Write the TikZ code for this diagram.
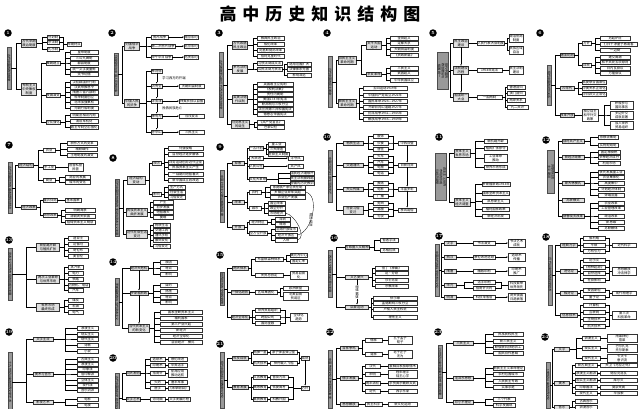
\documentclass[tikz,border=0pt]{standalone}
\usepackage{fontspec}
\newfontfamily\cjk{Noto Sans CJK SC}
\usetikzlibrary{arrows.meta,positioning}

\begin{document}
\begin{tikzpicture}
	[   x=1pt,y=-1pt,line width=0.3pt,
		every node/.style={font=\cjk\fontsize{3.3}{3.8}\selectfont},
		num/.style={circle,fill=black,text=white,inner sep=0pt,minimum size=7.5pt,font=\bfseries\fontsize{4.5}{4.5}\selectfont},
		bar/.style={draw=black!70,fill=black!40,rotate=-90,inner sep=0.4pt,minimum height=4.6pt,minimum width=#1,align=center,font=\cjk\fontsize{3.1}{3.6}\selectfont},
		br/.style={draw=black!80,fill=black!12,inner sep=0.5pt,minimum height=4.6pt,minimum width=#1,align=center},
		lf/.style={draw=black!80,fill=white,inner sep=0.4pt,minimum height=4.4pt,minimum width=#1,align=center,anchor=west},
	]
	\tikzset{arr/.style={draw,-{Latex[length=1.6pt,width=1.4pt]}}}
	\fill[white] (0,0) rectangle (640,408);
	\useasboundingbox (0,0) rectangle (640,408);
	\node[font=\cjk\bfseries\fontsize{17}{17}\selectfont] (title) at (320,14) {高\hspace{6pt}中\hspace{6pt}历\hspace{6pt}史\hspace{6pt}知\hspace{6pt}识\hspace{6pt}结\hspace{6pt}构\hspace{6pt}图};
	
	% 1
	\node[num] (n1) at (8,33) {1};
	\node[bar=42] (b1) at (9,68) {古代中国的政治制度};
	\node[br=15] (s1a) at (29,43) {古代早期\\政治制度};
	\node[br=15] (s1b) at (29,89) {专制主义\\中央集权\\制度};
	\foreach \s in {s1a,s1b} \draw (b1.north) -- ++(5,0) |- (\s.west);
	\node[lf=14] (r1a) at (67,44) {早期特点};
	\foreach \y/\t [count=\i] in {37/分封制,42/宗法制,49/礼乐制}
	{
		\node[lf=12] (l1a\i) at (47,\y) {\t};
		\draw (s1a.east) -- ++(5,0) |- (l1a\i.west);
		\draw (l1a\i.east) -- ++(4,0) |- (r1a.west);
	}
	\foreach \y/\t [count=\i] in {63/秦朝建立,95/发展演变,122/空前强化}
	{
		\node[lf=13] (t1b\i) at (46,\y) {\t};
		\draw (s1b.east) -- ++(4,0) |- (t1b\i.west);
	}
	\foreach \y/\t [count=\i] in {52/皇帝制度,58/三公九卿制,63/郡县制度,69/统一文字度量衡,74/焚书坑儒}
	{
		\node[lf=28] (l1b\i) at (70,\y) {\t};
		\draw (t1b1.east) -- ++(5,0) |- (l1b\i.west);
	}
	\foreach \y/\t [count=\i] in {82/汉初郡国并行制,87/汉武帝推恩令,92/隋唐三省六部制,97/科举制度创立,102/北宋加强集权,108/元朝行省制度}
	{
		\node[lf=28] (l1c\i) at (70,\y) {\t};
		\draw (t1b2.east) -- ++(5,0) |- (l1c\i.west);
	}
	\foreach \y/\t [count=\i] in {115/明废丞相设内阁,121/清设军机处,127/君主专制空前强化}
	{
		\node[lf=28] (l1d\i) at (70,\y) {\t};
		\draw (t1b3.east) -- ++(5,0) |- (l1d\i.west);
	}
	
	% 2
	\node[num] (n2) at (112,33) {2};
	\node[bar=42] (b2) at (116,74) {列强侵华与中国人民的抗争};
	\node[br=15] (s2a) at (132,46) {列强侵华\\战争};
	\node[br=15] (s2b) at (132,103) {中国人民\\的抗争};
	\foreach \s in {s2a,s2b} \draw (b2.north) -- ++(4,0) |- (\s.west);
	\foreach \y/\t/\r [count=\i] in {37/鸦片战争/南京条约,46/第二次鸦片战争/北京条约,57/甲午中日战争/马关条约}
	{
		\node[lf=17] (l2a\i) at (151,\y) {\t};
		\node[lf=13] (r2a\i) at (184,\y) {\r};
		\draw (s2a.east) -- ++(6,0) |- (l2a\i.west);
		\draw[arr] (l2a\i) -- (r2a\i);
	}
	\foreach \y/\t [count=\i] in {71/林则徐,86/洪秀全,101/洋务派,116/康有为,132/孙中山}
	{
		\node[lf=11] (l2b\i) at (151,\y) {\t};
		\draw (s2b.east) -- ++(6,0) |- (l2b\i.west);
	}
	\foreach \y/\t [count=\i from 2] in {86/天朝田亩制度,101/师夷长技以自强,116/戊戌变法,132/三民主义}
	{
		\node[lf=25] (r2b\i) at (179,\y) {\t};
		\draw[arr] (l2b\i) -- (r2b\i);
	}
	\foreach \i [evaluate=\i as \j using int(\i+1)] in {1,...,4} \draw[arr] (l2b\i) -- (l2b\j);
	\node[anchor=west] (c2a) at (159,78) {学习西方的开端};
	\node[anchor=west] (c2b) at (159,108) {挽救民族危亡};
	
	% 3
	\node[num] (n3) at (219,33) {3};
	\node[bar=65] (b3) at (221,85) {古代希腊罗马和近代西方的政治制度};
	\foreach \y/\t/\n in {45/古代希腊\\民主政治/a,69/罗马法的\\发展/b,99/英美法德\\代议制/c,124/马克思主义\\的诞生/d}
	{
		\node[br=15] (s3\n) at (240,\y) {\t};
		\draw (b3.north) -- ++(4,0) |- (s3\n.west);
	}
	\foreach \y/\t [count=\i] in {38/雅典民主政治,44/梭伦改革,50/克里斯提尼改革,56/伯利克里时代}
	{
		\node[lf=27] (l3a\i) at (257,\y) {\t};
		\draw (s3a.east) -- ++(5,0) |- (l3a\i.west);
	}
	\foreach \y/\t [count=\i] in {63/习惯法到成文法,69/公民法到万民法}
	{
		\node[lf=25] (l3b\i) at (257,\y) {\t};
		\draw (s3b.east) -- ++(5,0) |- (l3b\i.west);
	}
	\foreach \y/\t [count=\i] in {64/适用范围扩大,69/法律体系完善,75/影响深远}
	{
		\node[lf=24] (r3b\i) at (287,\y) {\t};
		\draw (l3b2.east) -- ++(2,0) |- (r3b\i.west);
	}
	\foreach \y/\t [count=\i] in {84/英国君主立宪制,89/《权利法案》,94/责任内阁制,99/美国1787年宪法,104/联邦制与三权分立,109/法兰西第三共和国宪法,114/德意志帝国宪法}
	{
		\node[lf=36] (l3c\i) at (257,\y) {\t};
		\draw (s3c.east) -- ++(5,0) |- (l3c\i.west);
	}
	\foreach \y/\t [count=\i] in {122/《共产党宣言》,127/巴黎公社}
	{
		\node[lf=27] (l3d\i) at (257,\y) {\t};
		\draw (s3d.east) -- ++(5,0) |- (l3d\i.west);
	}
	
	% 4
	\node[num] (n4) at (327,33) {4};
	\node[bar=51] (b4) at (330,82) {近代中国的民主革命};
	\node[br=17] (s4a) at (347,60) {旧民主主义\\革命时期};
	\node[br=17] (s4b) at (347,103) {新民主主义\\革命时期};
	\foreach \s in {s4a,s4b} \draw (b4.north) -- ++(4,0) |- (\s.west);
	\node[br=15] (t4a) at (374,45) {太平天国\\运动};
	\node[br=15] (t4b) at (374,74) {辛亥革命};
	\foreach \s in {t4a,t4b} \draw (s4a.east) -- ++(5,0) |- (\s.west);
	\foreach \y/\t [count=\i] in {38/金田起义,43/定都天京,49/天朝田亩制度,55/《资政新篇》}
	{
		\node[lf=28] (l4a\i) at (390,\y) {\t};
		\draw (t4a.east) -- ++(4,0) |- (l4a\i.west);
	}
	\foreach \y/\t [count=\i] in {68/三民主义,73/武昌起义,80/中华民国成立}
	{
		\node[lf=28] (l4b\i) at (390,\y) {\t};
		\draw (t4b.east) -- ++(4,0) |- (l4b\i.west);
	}
	\foreach \y/\t [count=\i] in {88/五四运动1919年,95/中国共产党成立1921年,101/国民革命1924—1927年,107/开辟井冈山道路1927年,113/抗日战争1931—1945年,119/解放战争1946—1949年}
	{
		\node[lf=44] (l4c\i) at (363,\y) {\t};
		\draw (s4b.east) -- ++(3,0) |- (l4c\i.west);
	}
	
	% 5
	\node[num] (n5) at (433,33) {5};
	\node[bar=37] (b5) at (443,71) {现代中国的\\政治建设与\\祖国统一};
	\foreach \y/\t/\m/\n in {43/民主政治\\建设/人民代表大会制度/a,70/法制建设\\历程/1954年宪法/b,97/祖国统一\\大业/“一国两制”/c}
	{
		\node[br=15] (s5\n) at (461,\y) {\t};
		\node[lf=25] (m5\n) at (477,\y) {\m};
		\draw (b5.north) -- ++(2,0) |- (s5\n.west);
		\draw (s5\n) -- (m5\n);
	}
	\draw[arr] (s5a) -- (s5b);
	\draw[arr] (s5b) -- (s5c);
	\foreach \y/\t [count=\i] in {38/政治协商\\制度,50/民族区域\\自治}
	{
		\node[lf=14] (r5a\i) at (509,\y) {\t};
		\draw (m5a.east) -- ++(3,0) |- (r5a\i.west);
	}
	\node[lf=14] (r5b) at (509,70) {民主法制\\建设};
	\draw (m5b) -- (r5b);
	\foreach \y/\t [count=\i] in {87/香港回归,93/澳门回归,100/两岸关系,107/“九二共识”}
	{
		\node[lf=18] (r5c\i) at (507,\y) {\t};
		\draw (m5c.east) -- ++(2.5,0) |- (r5c\i.west);
	}
	
	% 6
	\node[num] (n6) at (540,33) {6};
	\node[bar=40] (b6) at (549,85) {现代中国的对外关系};
	\foreach \y/\t/\n in {55/建国初期/a,88/70年代/b,115/改革开放/c}
	{
		\node[br=14] (s6\n) at (567,\y) {\t};
		\draw (b6.north) -- ++(4,0) |- (s6\n.west);
	}
	\node[lf=9] (t6a1) at (582,43) {方针};
	\node[lf=9] (t6a2) at (582,65) {成就};
	\foreach \s in {t6a1,t6a2} \draw (s6a.east) -- ++(4,0) |- (\s.west);
	\foreach \y/\t [count=\i] in {38/“另起炉灶”,44/“打扫干净屋子再请客”,50/“一边倒”}
	{
		\node[lf=30] (l6a\i) at (600,\y) {\t};
		\draw (t6a1.east) -- ++(4,0) |- (l6a\i.west);
	}
	\foreach \y/\t [count=\i] in {57/建交高潮,62/和平共处五项原则,68/日内瓦会议,73/万隆会议}
	{
		\node[lf=30] (l6b\i) at (600,\y) {\t};
		\draw (t6a2.east) -- ++(4,0) |- (l6b\i.west);
	}
	\foreach \y/\t [count=\i] in {82/恢复联合国席位,88/中美关系正常化,94/中日邦交正常化}
	{
		\node[lf=23] (l6c\i) at (582,\y) {\t};
		\draw (s6b.east) -- ++(4,0) |- (l6c\i.west);
	}
	\node[lf=16] (t6c) at (582,115) {独立自主\\和平外交\\政策};
	\draw (s6c) -- (t6c);
	\foreach \y/\t [count=\i] in {105/积极参与\\国际事务,115/多边外交\\成就显著,125/加入世界\\贸易组织}
	{
		\node[lf=23] (l6d\i) at (610,\y) {\t};
		\draw (t6c.east) -- ++(6,0) |- (l6d\i.west);
	}
	
	% 7
	\node[num] (n7) at (9,145) {7};
	\node[bar=51] (b7) at (10,188) {古代中国经济的基本结构与特点};
	\node[br=15] (s7a) at (26,165) {经济结构};
	\node[br=15] (s7b) at (29,207) {经济政策};
	\foreach \s in {s7a,s7b} \draw (b7.north) -- ++(3,0) |- (\s.west);
	\foreach \y/\t [count=\i] in {150/农业,167/手工业,180/商业}
	{
		\node[lf=12] (t7a\i) at (43,\y) {\t};
		\draw (s7a.east) -- ++(4.5,0) |- (t7a\i.west);
	}
	\foreach \y/\t [count=\i] in {143/耕作方式的变革,149/精耕细作,155/土地制度的演变}
	{
		\node[lf=30] (l7a\i) at (67,\y) {\t};
		\draw (t7a1.east) -- ++(5,0) |- (l7a\i.west);
	}
	\node[lf=15] (l7b) at (68,167) {官营私营\\民营};
	\draw (t7a2) -- (l7b);
	\foreach \y/\t [count=\i] in {177/商业的发展,182/城市的变化}
	{
		\node[lf=25] (l7c\i) at (65,\y) {\t};
		\draw (t7a3.east) -- ++(4,0) |- (l7c\i.west);
	}
	\node[lf=14] (t7b1) at (43,200) {重农抑商};
	\node[lf=14] (t7b2) at (43,215) {海禁政策};
	\foreach \s in {t7b1,t7b2} \draw (s7b.east) -- ++(3,0) |- (\s.west);
	\node[lf=16] (l7d) at (65,200) {基本国策};
	\draw (t7b1) -- (l7d);
	\foreach \y/\t [count=\i] in {210/明朝海禁,216/清朝闭关锁国,222/阻碍资本主义萌芽}
	{
		\node[lf=30] (l7e\i) at (65,\y) {\t};
		\draw (t7b2.east) -- ++(3.5,0) |- (l7e\i.west);
	}
	
	% 8
	\node[num] (n8) at (113,158) {8};
	\node[bar=57] (b8) at (117,208) {近代中国经济结构的变动与资本主义发展};
	\node[br=18] (s8a) at (136,180) {经济结构\\变动};
	\node[br=20] (s8b) at (137,212) {民族资本主义\\曲折发展};
	\node[br=20] (s8c) at (137,234) {近代社会生活\\变迁};
	\foreach \s in {s8a,s8b,s8c} \draw (b8.north) -- ++(4,0) |- (\s.west);
	\node[lf=9] (t8a1) at (152,163) {原因};
	\node[lf=9] (t8a2) at (152,194) {影响};
	\foreach \s in {t8a1,t8a2} \draw (s8a.east) -- ++(3.5,0) |- (\s.west);
	\foreach \y/\t [count=\i] in {148/列强侵略,154/自然经济逐步解体,162/洋务运动创办近代企业,167/民族资本主义产生,174/一战期间短暂春天,180/新中国成立后改造}
	{
		\node[lf=35] (l8a\i) at (168,\y) {\t};
		\draw (t8a1.east) -- ++(3,0) |- (l8a\i.west);
	}
	\foreach \y/\t [count=\i] in {187/生产方式,192/社会生活,197/习俗变迁}
	{
		\node[lf=17] (l8b\i) at (168,\y) {\t};
		\draw (t8a2.east) -- ++(3,0) |- (l8b\i.west);
	}
	\foreach \y/\t [count=\i] in {202/产生,207/初步发展,212/短暂春天,217/萎缩}
	{
		\node[lf=20] (l8c\i) at (153,\y) {\t};
		\draw (s8b.east) -- ++(2.5,0) |- (l8c\i.west);
	}
	\foreach \y/\t [count=\i] in {225/物质生活,230/交通工具,235/通讯手段,240/服饰变化,246/习俗变迁}
	{
		\node[lf=17] (l8d\i) at (153,\y) {\t};
		\draw (s8c.east) -- ++(2.5,0) |- (l8d\i.west);
	}
	
	% 9
	\node[num] (n9) at (220,147) {9};
	\node[bar=52] (b9) at (222,196) {中国社会主义建设道路的探索};
	\foreach \y/\t/\n in {163/探索/a,202/改革/b,227/开放/c}
	{
		\node[br=12] (s9\n) at (238,\y) {\t};
		\draw (b9.north) -- ++(3,0) |- (s9\n.west);
	}
	\foreach \y/\t [count=\i] in {148/一五计划,158/大跃进,166/人民公社,179/文化大革命}
	{
		\node[lf=14] (t9a\i) at (249,\y) {\t};
		\draw (s9a.east) -- ++(2.5,0) |- (t9a\i.west);
	}
	\foreach \y/\t [count=\i] in {144/重工业,149/三大改造,154/社会主义制度}
	{
		\node[lf=17] (l9a\i) at (268,\y) {\t};
		\draw (t9a1.east) -- ++(2.5,0) |- (l9a\i.west);
	}
	\node[lf=15] (r9a1) at (288,158) {浮夸风};
	\node[lf=15] (r9a2) at (288,166) {共产风};
	\draw[arr] (t9a2) -- (r9a1);
	\draw[arr] (t9a3) -- (r9a2);
	\foreach \y/\t [count=\i] in {173/国民经济遭破坏,178/民主法制被践踏,183/惨痛的历史教训}
	{
		\node[lf=24] (l9b\i) at (290,\y) {\t};
		\draw (t9a4.east) -- ++(12,0) |- (l9b\i.west);
	}
	\node[lf=12] (t9b1) at (249,192) {农村};
	\node[lf=12] (t9b2) at (249,208) {城市};
	\foreach \s in {t9b1,t9b2} \draw (s9b.east) -- ++(2.5,0) |- (\s.west);
	\foreach \y/\t [count=\i] in {187/家庭联产承包责任制,192/乡镇企业异军突起,197/农业生产发展}
	{
		\node[lf=35] (l9c\i) at (270,\y) {\t};
		\draw (t9b1.east) -- ++(4,0) |- (l9c\i.west);
	}
	\foreach \y/\t [count=\i] in {203/国企改革,208/政企分开,213/市场经济}
	{
		\node[lf=17] (l9d\i) at (268,\y) {\t};
		\draw (t9b2.east) -- ++(3,0) |- (l9d\i.west);
	}
	\node[lf=18] (t9c1) at (249,222) {经济特区};
	\node[lf=18] (t9c2) at (249,233) {全方位开放};
	\foreach \s in {t9c1,t9c2} \draw (s9c.east) -- ++(2.5,0) |- (\s.west);
	\foreach \y/\t [count=\i] in {219/深圳,224/珠海}
	{
		\node[lf=15] (l9e\i) at (275,\y) {\t};
		\draw (t9c1.east) -- ++(4,0) |- (l9e\i.west);
	}
	\foreach \y/\t [count=\i] in {229/沿海开放城市,235/经济开放区,240/“入世”}
	{
		\node[lf=22] (l9f\i) at (275,\y) {\t};
		\draw (t9c2.east) -- ++(4,0) |- (l9f\i.west);
	}
	\draw (l9c2.east) to[out=-10,in=10,looseness=0.9] (l9f2.east);
	\draw (l9d3.east) to[out=-10,in=10,looseness=0.9] (l9f3.east);
	\node[rotate=-90] (c9) at (311,220) {相互促进};
	
	% 10
	\node[num] (n10) at (327,137) {10};
	\node[bar=52] (b10) at (330,176) {中国近现代社会生活的变迁};
	\foreach \y/\t/\r/\n in {143/物质生活/中西合璧/a,165/交通通讯/日新月异/b,189/大众传媒/丰富多彩/c,210/社会习俗\\变迁/移风易俗/d}
	{
		\node[br=20] (s10\n) at (353,\y) {\t};
		\node[lf=18] (r10\n) at (398,\y) {\r};
		\draw (b10.north) -- ++(4,0) |- (s10\n.west);
	}
	\foreach \n/\m in {a/b,b/c,c/d} \draw[arr] (r10\n) -- (r10\m);
	\foreach \y/\t [count=\i] in {136/服饰,143/饮食,149/居住}
	{
		\node[lf=15] (l10a\i) at (373,\y) {\t};
		\draw (s10a.east) -- ++(5,0) |- (l10a\i.west);
		\draw (l10a\i.east) -- ++(5,0) |- (r10a.west);
	}
	\foreach \y/\t [count=\i] in {156/火车,162/汽车,167/电报,173/电话}
	{
		\node[lf=15] (l10b\i) at (373,\y) {\t};
		\draw (s10b.east) -- ++(5,0) |- (l10b\i.west);
		\draw (l10b\i.east) -- ++(5,0) |- (r10b.west);
	}
	\foreach \y/\t [count=\i] in {183/报纸,189/电影,196/广播}
	{
		\node[lf=15] (l10c\i) at (373,\y) {\t};
		\draw (s10c.east) -- ++(5,0) |- (l10c\i.west);
		\draw (l10c\i.east) -- ++(5,0) |- (r10c.west);
	}
	\foreach \y/\t [count=\i] in {203/剪辫,209/易服,216/礼仪}
	{
		\node[lf=15] (l10d\i) at (373,\y) {\t};
		\draw (s10d.east) -- ++(5,0) |- (l10d\i.west);
		\draw (l10d\i.east) -- ++(5,0) |- (r10d.west);
	}
	
	% 11
	\node[num] (n11) at (439,137) {11};
	\node[bar=47] (b11) at (441,177) {资本主义世界\\市场的形成\\与经济调整};
	\node[br=16] (s11a) at (462,153) {资本主义\\世界市场};
	\node[br=16] (s11b) at (462,202) {资本主义\\经济调整};
	\foreach \s in {s11a,s11b} \draw (b11.north) -- ++(3,0) |- (\s.west);
	\foreach \y/\t [count=\i] in {141/新航路开辟,148/殖民扩张掠夺,158/工业革命\\推动,167/世界市场形成}
	{
		\node[lf=23] (l11a\i) at (484,\y) {\t};
		\draw (s11a.east) -- ++(5,0) |- (l11a\i.west);
	}
	\foreach \y/\t [count=\i] in {184/罗斯福新政1933年,193/国家垄断资本主义,201/凯恩斯主义,209/福利国家政策,216/新经济出现}
	{
		\node[lf=27] (l11b\i) at (482,\y) {\t};
		\draw (s11b.east) -- ++(5,0) |- (l11b\i.west);
	}
	
	% 12
	\node[num] (n12) at (546,140) {12};
	\node[bar=43] (b12) at (551,172) {苏联的社会\\主义建设};
	\foreach \y/\t/\n in {141/战时共产主义/a,157/新经济政策/b,183/斯大林模式/c,200/“苏联模式”/d,216/赫鲁晓夫改革/e}
	{
		\node[br=22] (s12\n) at (573,\y) {\t};
		\draw (b12.north) -- ++(3,0) |- (s12\n.west);
	}
	\foreach \y/\t [count=\i] in {137/余粮收集制,145/实物配给制}
	{
		\node[lf=20] (l12a\i) at (598,\y) {\t};
		\draw (s12a.east) -- ++(6,0) |- (l12a\i.west);
	}
	\foreach \y/\t [count=\i] in {152/固定粮食税,157/多种经济成分,163/利用市场}
	{
		\node[lf=22] (l12b\i) at (598,\y) {\t};
		\draw (s12b.east) -- ++(6,0) |- (l12b\i.west);
	}
	\foreach \y/\t [count=\i] in {172/优先发展重工业,177/农业集体化,183/高度集中,189/计划经济体制,195/弊端显露}
	{
		\node[lf=26] (l12c\i) at (598,\y) {\t};
		\draw (s12c.east) -- ++(6,0) |- (l12c\i.west);
	}
	\foreach \y/\t [count=\i] in {203/农业改革,208/工业管理改革,216/政治改革,222/“新思维”,228/苏联解体}
	{
		\node[lf=26] (l12e\i) at (598,\y) {\t};
		\draw (s12e.east) -- ++(6,0) |- (l12e\i.west);
	}
	
	% 13
	\node[num] (n13) at (9,240) {13};
	\node[bar=52] (b13) at (10,274) {资本主义世界市场的形成与发展};
	\foreach \y/\t/\n in {247/新航路开辟\\与殖民扩张/a,279/两次工业革命\\与世界市场/b,307/世界市场\\最终形成/c}
	{
		\node[br=23] (s13\n) at (48,\y) {\t};
		\draw (b13.north) -- ++(14,0) |- (s13\n.west);
	}
	\foreach \y/\t [count=\i] in {238/迪亚士,244/达伽马,250/哥伦布,256/麦哲伦}
	{
		\node[lf=20] (l13a\i) at (68,\y) {\t};
		\draw (s13a.east) -- ++(4,0) |- (l13a\i.west);
	}
	\foreach \y/\t [count=\i] in {267/蒸汽机,273/电力,279/铁路,285/内燃机、电话,290/汽车}
	{
		\node[lf=15] (l13b\i) at (68,\y) {\t};
		\draw (s13b.east) -- ++(4,0) |- (l13b\i.west);
	}
	\foreach \y/\t [count=\i] in {300/煤炭,306/石油,312/电气}
	{
		\node[lf=15] (l13c\i) at (68,\y) {\t};
		\draw (s13c.east) -- ++(4,0) |- (l13c\i.west);
	}
	
	% 14
	\node[num] (n14) at (113,262) {14};
	\node[bar=47] (b14) at (117,302) {罗斯福新政与当代资本主义};
	\foreach \y/\t/\n in {268/经济大危机/a,293/罗斯福新政/b,328/当代资本主义\\的新变化/c}
	{
		\node[br=16] (s14\n) at (139,\y) {\t};
		\draw (b14.north) -- ++(3,0) |- (s14\n.west);
	}
	\draw[arr] (s14a) -- (s14b);
	\draw[arr] (s14b) -- (s14c);
	\foreach \y/\t [count=\i] in {262/原因,268/特点,274/影响}
	{
		\node[lf=17] (l14a\i) at (160,\y) {\t};
		\draw (s14a.east) -- ++(5,0) |- (l14a\i.west);
	}
	\foreach \y/\t [count=\i] in {285/目的,291/措施,297/特点,302/影响}
	{
		\node[lf=17] (l14b\i) at (160,\y) {\t};
		\draw (s14b.east) -- ++(5,0) |- (l14b\i.west);
	}
	\foreach \y/\t [count=\i] in {312/国家垄断资本主义,318/“福利国家”,324/第三产业兴起,330/“新经济”,336/经济全球化,342/“混合经济”模式}
	{
		\node[lf=42] (l14c\i) at (160,\y) {\t};
		\draw (s14c.east) -- ++(5,0) |- (l14c\i.west);
	}
	
	% 15
	\node[num] (n15) at (220,255) {15};
	\node[bar=33] (b15) at (222,289) {世界经济的全球化趋势};
	\foreach \y/\t/\n in {268/两大体系/a,292/一体化趋势/b,317/经济全球化/c}
	{
		\node[br=16] (s15\n) at (240,\y) {\t};
		\draw (b15.north) -- ++(3,0) |- (s15\n.west);
	}
	\node[lf=28] (t15a1) at (255,259) {布雷顿森林体系};
	\node[lf=28] (t15a2) at (255,275) {关贸总协定};
	\foreach \s in {t15a1,t15a2} \draw (s15a.east) -- ++(3,0) |- (\s.west);
	\foreach \y/\t [count=\i] in {255/美元为中心,261/固定汇率}
	{
		\node[lf=17] (l15a\i) at (290,\y) {\t};
		\draw (t15a1.east) -- ++(3,0) |- (l15a\i.west);
	}
	\node[lf=17] (l15b) at (290,275) {贸易自由\\化};
	\draw (t15a2) -- (l15b);
	\node[lf=22] (t15b) at (255,292) {区域集团化};
	\draw (s15b) -- (t15b);
	\foreach \y/\t [count=\i] in {288/欧洲联盟,296/北美自由\\贸易区}
	{
		\node[lf=25] (l15c\i) at (283,\y) {\t};
		\draw (t15b.east) -- ++(3,0) |- (l15c\i.west);
	}
	\node[lf=17] (r15c) at (290,317) {全球化\\趋势};
	\foreach \y/\t [count=\i] in {310/世界贸易组织,317/跨国公司,323/国际金融}
	{
		\node[lf=25] (t15c\i) at (255,\y) {\t};
		\draw (s15c.east) -- ++(3,0) |- (t15c\i.west);
		\draw (t15c\i.east) -- ++(5,0) |- (r15c.west);
	}
	
	% 16
	\node[num] (n16) at (334,238) {16};
	\node[bar=47] (b16) at (330,274) {西方人文精神的起源与发展};
	\node[br=24] (s16a) at (357,247) {古希腊人文精神};
	\node[br=23] (s16b) at (357,277) {文艺复兴};
	\node[br=23] (s16c) at (357,307) {启蒙运动};
	\foreach \s in {s16a,s16b,s16c} \draw (b16.north) -- ++(4,0) |- (\s.west);
	\draw[arr] (s16b) -- node[rotate=-90,fill=white,inner sep=0.3pt] {思想解放} (s16c);
	\foreach \y/\t [count=\i] in {240/智者学派,250/苏格拉底}
	{
		\node[lf=18] (l16a\i) at (380,\y) {\t};
		\draw (s16a.east) -- ++(5,0) |- (l16a\i.west);
	}
	\foreach \y/\t [count=\i] in {268/但丁《神曲》,273/达·芬奇,280/莎士比亚,286/宗教改革}
	{
		\node[lf=33] (l16b\i) at (375,\y) {\t};
		\draw (s16b.east) -- ++(3,0) |- (l16b\i.west);
	}
	\foreach \y/\t [count=\i] in {298/伏尔泰,303/孟德斯鸠三权分立,309/卢梭人民主权说,317/理性主义}
	{
		\node[lf=44] (l16c\i) at (373,\y) {\t};
		\draw (s16c.east) -- ++(2,0) |- (l16c\i.west);
	}
	
	% 17
	\node[num] (n17) at (439,236) {17};
	\node[bar=52] (b17) at (437,270) {中国古代的科学技术与文化};
	\foreach \y/\t/\m/\r/\n in {243/汉字/书法演变/书法艺术\\成就/a,257/西汉/蔡伦改进造纸/造纸术\\传播/b,271/隋唐/雕版印刷/印刷术\\推广/c,297/明清/科技渐落后/闭关锁国\\日趋衰落/e}
	{
		\node[br=12] (s17\n) at (450,\y) {\t};
		\node[lf=22] (m17\n) at (473,\y) {\m};
		\node[lf=17] (r17\n) at (508,\y) {\r};
		\draw (b17.north) -- ++(2,0) |- (s17\n.west);
		\draw (s17\n) -- (m17\n);
		\draw[arr] (m17\n) -- (r17\n);
	}
	\node[br=12] (s17d) at (450,285) {宋元};
	\node[lf=22] (m17d1) at (473,282) {活字印刷};
	\node[lf=22] (m17d2) at (473,288) {指南针火药};
	\node[lf=17] (r17d) at (508,285) {科技繁荣\\世界领先};
	\draw (b17.north) -- ++(2,0) |- (s17d.west);
	\foreach \i in {1,2}
	{
		\draw (s17d.east) -- ++(8,0) |- (m17d\i.west);
		\draw (m17d\i.east) -- ++(6,0) |- (r17d.west);
	}
	
	% 18
	\node[num] (n18) at (546,237) {18};
	\node[bar=60] (b18) at (550,275) {近代以来世界的科学技术};
	\foreach \y/\t/\r/\n in {245/经典力学/近代科学/a,271/进化论/思想解放\\冲击神学/b,293/相对论/现代物理学/c,315/信息技术/第三次\\科技革命/d}
	{
		\node[br=17] (s18\n) at (569,\y) {\t};
		\node[lf=24] (r18\n) at (612,\y) {\r};
		\draw (b18.north) -- ++(3,0) |- (s18\n.west);
	}
	\foreach \y/\t [count=\i] in {238/伽利略,245/牛顿,251/万有引力}
	{
		\node[lf=22] (l18a\i) at (583,\y) {\t};
		\draw (s18a.east) -- ++(2.5,0) |- (l18a\i.west);
		\draw (l18a\i.east) -- ++(3.5,0) |- (r18a.west);
	}
	\foreach \y/\t [count=\i] in {260/达尔文,267/《物种起源》,273/自然选择,280/社会影响}
	{
		\node[lf=22] (l18b\i) at (583,\y) {\t};
		\draw (s18b.east) -- ++(2.5,0) |- (l18b\i.west);
		\draw (l18b\i.east) -- ++(3.5,0) |- (r18b.west);
	}
	\foreach \y/\t [count=\i] in {290/爱因斯坦,297/量子论}
	{
		\node[lf=22] (l18c\i) at (583,\y) {\t};
		\draw (s18c.east) -- ++(2.5,0) |- (l18c\i.west);
		\draw (l18c\i.east) -- ++(3.5,0) |- (r18c.west);
	}
	\foreach \y/\t [count=\i] in {305/计算机,312/互联网,319/生物技术,326/航天技术}
	{
		\node[lf=22] (l18d\i) at (583,\y) {\t};
		\draw (s18d.east) -- ++(2.5,0) |- (l18d\i.west);
		\draw (l18d\i.east) -- ++(3.5,0) |- (r18d.west);
	}
	
	% 19
	\node[num] (n19) at (9,332) {19};
	\node[bar=60] (b19) at (10,382) {十九世纪以来的世界文学艺术};
	\foreach \y/\t/\n in {339/文学主流/a,374/美术与音乐/b,402/影视艺术/c}
	{
		\node[br=20] (s19\n) at (43,\y) {\t};
		\draw (b19.north) -- ++(14,0) |- (s19\n.west);
	}
	\foreach \y/\t [count=\i] in {328/浪漫主义,334/现实主义,339/现代主义,345/诗歌,351/小说}
	{
		\node[lf=21] (l19a\i) at (77,\y) {\t};
		\draw (s19a.east) -- ++(12,0) |- (l19a\i.west);
	}
	\foreach \y/\t [count=\i] in {359/古典主义,364/浪漫主义,369/印象派,374/后印象派,380/立体主义,385/现代派,390/音乐流派}
	{
		\node[lf=21] (l19b\i) at (77,\y) {\t};
		\draw (s19b.east) -- ++(12,0) |- (l19b\i.west);
	}
	\foreach \y/\t [count=\i] in {399/电影,405/电视}
	{
		\node[lf=21] (l19c\i) at (77,\y) {\t};
		\draw (s19c.east) -- ++(12,0) |- (l19c\i.west);
	}
	
	% 20
	\node[num] (n20) at (113,358) {20};
	\node[bar=50] (b20) at (117,398) {古代中国的科学技术与文学艺术};
	\node[br=13] (s20a) at (133,373) {四大发明};
	\node[br=13] (s20b) at (133,399) {文学艺术};
	\foreach \s in {s20a,s20b} \draw (b20.north) -- ++(3,0) |- (\s.west);
	\foreach \y/\t/\r [count=\i] in {359/造纸术/蔡伦改进,365/印刷术/毕昇活字,373/指南针/航海应用\\推动远航,382/火药/唐末军事,388/医学/《本草纲目》}
	{
		\node[lf=15] (l20a\i) at (150,\y) {\t};
		\node[lf=19] (r20a\i) at (168,\y) {\r};
		\draw (s20a.east) -- ++(5,0) |- (l20a\i.west);
		\draw (l20a\i) -- (r20a\i);
	}
	\node[lf=15] (l20b) at (150,399) {诗词曲};
	\node[lf=22] (r20b) at (168,399) {文学发展历程};
	\draw (s20b) -- (l20b);
	\draw (l20b) -- (r20b);
	
	% 21
	\node[num] (n21) at (220,344) {21};
	\node[bar=56] (b21) at (222,380) {现代中国的科技教育与文化};
	\node[br=16] (s21a) at (240,358) {科技成就};
	\node[br=16] (s21b) at (240,387) {教育发展};
	\foreach \s in {s21a,s21b} \draw (b21.north) -- ++(3,0) |- (\s.west);
	\node[lf=8] (r21a) at (301,358) {成就};
	\node[lf=8] (r21b) at (301,388) {方针};
	\draw[arr] (r21a) -- (r21b);
	\foreach \y/\t/\m [count=\i] in {352/两弹一星/原子弹氢弹卫星,363/航天技术/神舟载人飞船}
	{
		\node[lf=14] (t21a\i) at (253,\y) {\t};
		\node[lf=27] (l21a\i) at (270,\y) {\m};
		\draw (s21a.east) -- ++(2.5,0) |- (t21a\i.west);
		\draw (t21a\i) -- (l21a\i);
		\draw (l21a\i.east) -- ++(2,0) |- (r21a.west);
	}
	\foreach \y/\t/\m [count=\i] in {377/义务教育/普及九年,387/高等教育/恢复高考,399/素质教育/科教兴国}
	{
		\node[lf=14] (t21b\i) at (253,\y) {\t};
		\node[lf=18] (l21b\i) at (270,\y) {\m};
		\draw (s21b.east) -- ++(2.5,0) |- (t21b\i.west);
		\draw (t21b\i) -- (l21b\i);
		\draw (l21b\i.east) -- ++(5,0) |- (r21b.west);
	}
	
	% 22
	\node[num] (n22) at (330,332) {22};
	\node[bar=58] (b22) at (330,379) {中国传统文化主流思想的演变};
	\foreach \y/\t/\n in {348/百家争鸣/a,378/儒学发展/b,404/思想解放/c}
	{
		\node[br=18] (s22\n) at (349,\y) {\t};
		\draw (b22.north) -- ++(4,0) |- (s22\n.west);
	}
	\foreach \y/\t/\m [count=\i] in {340/儒家/孔子孟子\\荀子,354/道家/老子庄子\\无为}
	{
		\node[lf=17] (t22a\i) at (365,\y) {\t};
		\node[lf=24] (l22a\i) at (388,\y) {\m};
		\draw (s22a.east) -- ++(3.5,0) |- (t22a\i.west);
		\draw (t22a\i) -- (l22a\i);
	}
	\foreach \y/\t/\m [count=\i] in {366/汉代/罢黜百家独尊儒术,374/宋明/程朱理学\\陆王心学,383/明末清初/李贽黄宗羲顾炎武,391/近代/西学东渐}
	{
		\node[lf=15] (t22b\i) at (365,\y) {\t};
		\node[lf=29] (l22b\i) at (388,\y) {\m};
		\draw (s22b.east) -- ++(3.5,0) |- (t22b\i.west);
		\draw (t22b\i) -- (l22b\i);
	}
	\node[lf=17] (t22c) at (365,404) {民主科学};
	\node[lf=29] (l22c) at (388,404) {新文化运动};
	\draw (s22c) -- (t22c);
	\draw (t22c) -- (l22c);
	
	% 23
	\node[num] (n23) at (438,332) {23};
	\node[bar=53] (b23) at (440,372) {20世纪以来中国重大思想理论成果};
	\foreach \y/\t/\n in {343/三民主义/a,378/毛泽东思想/b,402/邓小平理论/c}
	{
		\node[br=20] (s23\n) at (463,\y) {\t};
		\draw (b23.north) -- ++(4,0) |- (s23\n.west);
	}
	\foreach \y/\t [count=\i] in {334/民族民权民生,341/新三民主义,347/联俄联共扶助农工,353/国共合作基础}
	{
		\node[lf=30] (l23a\i) at (493,\y) {\t};
		\draw (s23a.east) -- ++(12,0) |- (l23a\i.west);
	}
	\foreach \y/\t [count=\i] in {368/新民主主义革命理论,374/农村包围城市,381/人民民主专政,387/实事求是}
	{
		\node[lf=30] (l23b\i) at (493,\y) {\t};
		\draw (s23b.east) -- ++(12,0) |- (l23b\i.west);
	}
	\foreach \y/\t [count=\i] in {399/“三个代表”,405/科学发展观}
	{
		\node[lf=22] (l23c\i) at (493,\y) {\t};
		\draw (s23c.east) -- ++(12,0) |- (l23c\i.west);
	}
	
	% 24
	\node[num] (n24) at (545,337) {24};
	\node[bar=46] (b24) at (548,385) {19世纪以来的世界文化};
	\foreach \y/\t/\n in {349/文学/a,383/美术/b,407/音乐/c}
	{
		\node[br=15] (s24\n) at (562,\y) {\t};
		\draw (b24.north) -- ++(2,0) |- (s24\n.west);
	}
	\foreach \y/\t/\m [count=\i] in {338/浪漫主义/雨果拜伦\\雪莱,348/现实主义/巴尔扎克\\托尔斯泰,358/现代主义/卡夫卡\\意识流}
	{
		\node[lf=18] (t24a\i) at (582,\y) {\t};
		\node[lf=30] (l24a\i) at (607,\y) {\m};
		\draw (s24a.east) -- ++(6,0) |- (t24a\i.west);
		\draw (t24a\i) -- (l24a\i);
	}
	\foreach \y/\t/\m [count=\i] in {365/新古典主义/大卫《马拉之死》,373/浪漫主义画派/德拉克洛瓦,380/现实主义画派/库尔贝,387/印象画派/莫奈梵高,393/现代主义/毕加索}
	{
		\node[lf=22] (t24b\i) at (575,\y) {\t};
		\node[lf=37] (l24b\i) at (600,\y) {\m};
		\draw (s24b.east) -- ++(2.5,0) |- (t24b\i.west);
		\draw (t24b\i) -- (l24b\i);
	}
	\foreach \y/\t [count=\i] in {401/古典音乐,407/浪漫音乐}
	{
		\node[lf=22] (t24c\i) at (575,\y) {\t};
		\draw (s24c.east) -- ++(2.5,0) |- (t24c\i.west);
	}
\end{tikzpicture}
\end{document}
